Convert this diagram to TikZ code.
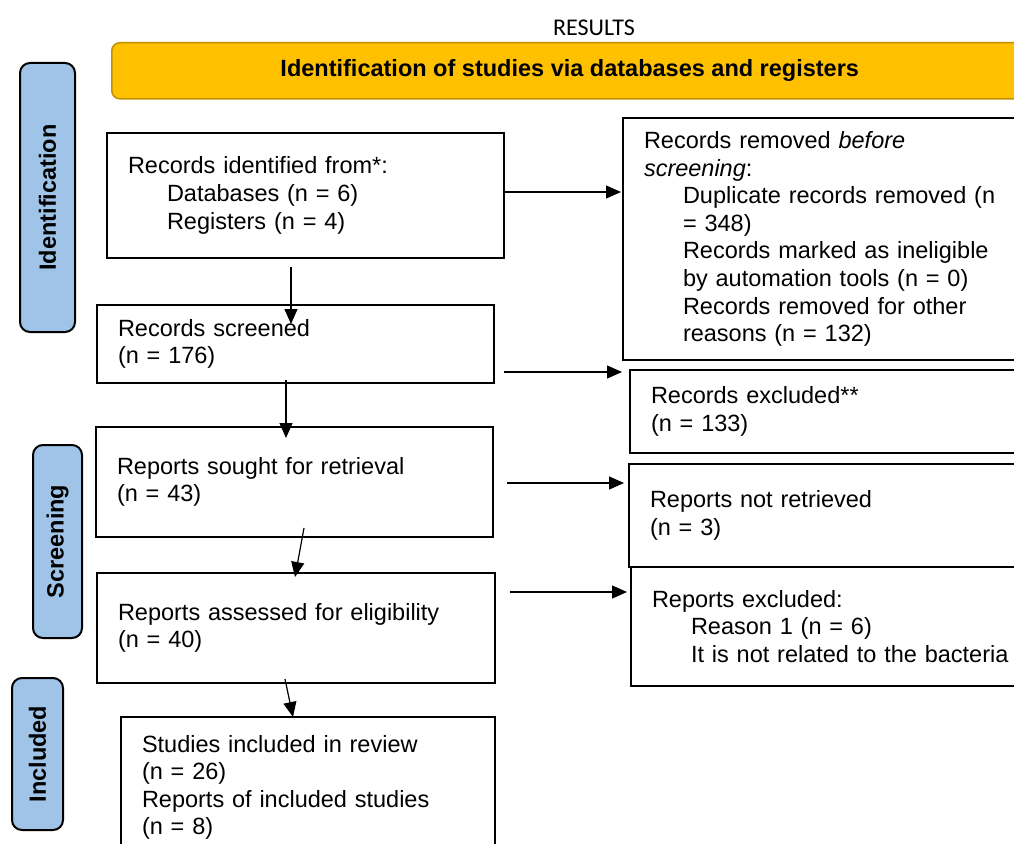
\documentclass[tikz,border=0pt]{standalone}
\usepackage{fontspec}
\setmainfont{Liberation Sans}
\newfontfamily\headfont{Carlito}
\usepackage{tikz}
\usetikzlibrary{arrows.meta}
\usepackage{xcolor}
\definecolor{PrismaGold}{RGB}{255,192,0}
\definecolor{PrismaGoldDark}{RGB}{191,144,0}
\definecolor{PrismaBlue}{RGB}{160,196,232}
\newcommand{\ind}{\hspace*{39pt}}

\begin{document}
\begin{tikzpicture}[
x=1pt,y=-1pt,
box/.style={
rectangle,draw=black,line width=2pt,anchor=north west,
inner xsep=21pt,inner ysep=0pt,outer sep=0pt,align=left,
font=\fontsize{23.5}{27.6}\selectfont
},
phase/.style={
rectangle,rounded corners=10pt,draw=black,line width=2pt,fill=PrismaBlue,
rotate=90,inner sep=0pt,font=\fontsize{23.5}{27.6}\selectfont\bfseries
},
banner/.style={
rectangle,rounded corners=8pt,draw=PrismaGoldDark,line width=1.5pt,fill=PrismaGold,
anchor=north west,minimum width=916pt,minimum height=56pt,
font=\fontsize{23.5}{27.6}\selectfont\bfseries
},
arrow/.style={-{Triangle[length=15pt,width=13pt]},line width=1.2pt,draw=black}
]

\useasboundingbox (0,0) rectangle (1014,843);
\clip (0,0) rectangle (1014,843);

\node[font=\headfont\fontsize{24}{28}\selectfont] (title) at (594,28) {RESULTS};

\node[banner] (band) at (111,42) {Identification of studies via databases and registers};

% phase labels on the left
\node[phase,minimum width=269pt,minimum height=55pt] (pid) at (47.5,197.5) {Identification};
\node[phase,minimum width=193pt,minimum height=49pt] (pscr) at (57.5,541.5) {Screening};
\node[phase,minimum width=152pt,minimum height=51pt] (pinc) at (37.5,754) {Included};

% main column
\node[box,text width=355pt,minimum height=125pt] (ident) at (107,133) {Records identified from*:\\
\ind Databases (n = 6)\\
\ind Registers (n = 4)};

\node[box,text width=355pt,minimum height=78pt] (screen) at (97,305) {Records screened\\(n = 176)};

\node[box,text width=355pt,minimum height=110pt] (sought) at (96,427) {Reports sought for retrieval\\(n = 43)};

\node[box,text width=356pt,minimum height=110pt] (assess) at (97,573) {Reports assessed for eligibility\\(n = 40)};

\node[box,text width=332pt,minimum height=141pt] (incl) at (121,717) {Studies included in review\\(n = 26)\\Reports of included studies\\(n = 8)};

% right column
\node[box,text width=395pt,minimum height=242pt] (removed) at (623,118) {Records removed \textit{before}\\
\textit{screening}:\\
\ind Duplicate records removed (n\\
\ind = 348)\\
\ind Records marked as ineligible\\
\ind by automation tools (n = 0)\\
\ind Records removed for other\\
\ind reasons (n = 132)};

\node[box,text width=388pt,minimum height=83pt] (excl) at (630,370) {Records excluded**\\(n = 133)};

\node[box,text width=389pt,minimum height=103pt] (notret) at (629,464) {Reports not retrieved\\(n = 3)};

\node[box,text width=387pt,minimum height=119pt] (repexcl) at (631,567) {Reports excluded:\\
\ind Reason 1 (n = 6)\\
\ind It is not related to the bacteria};

% arrows
\draw[arrow] ([shift={(0,-3.5)}]ident.east) -- ([shift={(-2,-47)}]removed.west);
\draw[arrow] ([shift={(10,28)}]screen.east) -- ([shift={(-8,-39.5)}]excl.west);
\draw[arrow] ([shift={(14,1)}]sought.east) -- ([shift={(-5,-32.5)}]notret.west);
\draw[arrow] ([shift={(15,-36)}]assess.east) -- ([shift={(-4,-34.5)}]repexcl.west);

\draw[arrow] ([shift={(-14.5,9)}]ident.south) -- ([shift={(-4.5,19)}]screen.north);
\draw[arrow] ([shift={(-9.5,-3)}]screen.south) -- ([shift={(-8.5,11)}]sought.north);
\draw[arrow] ([shift={(9.5,-9)}]sought.south) -- ([shift={(-1,4)}]assess.north);
\draw[arrow] ([shift={(-11,-4)}]assess.south) -- ([shift={(-15,0)}]incl.north);

\end{tikzpicture}
\end{document}
